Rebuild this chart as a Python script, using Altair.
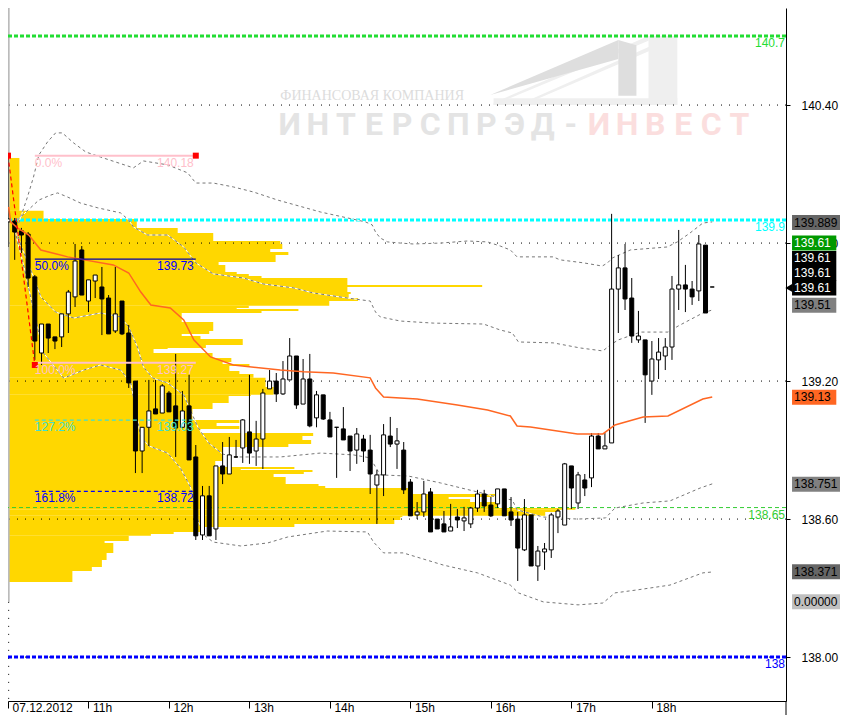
import altair as alt
import pandas as pd

# ---------- candles (5-minute bars, price) ----------
opens = [139.892,139.896,139.853,139.839,139.653,139.322,139.448,139.392,139.392,139.492,139.566,139.770,139.548,139.635,139.609,139.561,139.418,139.548,139.409,139.200,138.896,138.999,139.079,139.061,139.148,139.092,138.999,139.092,138.870,138.531,138.701,138.557,138.831,138.796,138.870,138.909,138.979,138.896,138.948,139.166,139.200,139.144,139.205,139.309,139.100,139.209,139.040,139.140,139.031,138.999,138.992,138.961,138.900,138.948,138.900,138.748,138.792,138.961,138.926,138.900,138.761,138.618,138.631,138.718,138.600,138.579,138.548,138.609,138.592,138.579,138.648,138.709,138.661,138.666,138.731,138.631,138.600,138.466,138.618,138.396,138.457,138.466,138.609,138.574,138.831,138.670,138.770,138.779,138.961,138.905,138.931,139.600,139.692,139.561,139.379,139.379,139.200,139.292,139.309,139.348,139.600,139.618,139.600,139.592,139.791,139.609]
highs = [140.178,139.909,139.866,139.848,139.661,139.448,139.448,139.392,139.492,139.596,139.796,139.787,139.640,139.661,139.696,139.574,139.696,139.548,139.444,139.200,138.999,139.205,139.205,139.187,139.157,139.318,139.157,139.227,138.922,138.744,138.744,138.831,138.935,138.957,138.944,139.035,139.227,139.027,139.166,139.248,139.235,139.287,139.387,139.309,139.296,139.318,139.157,139.140,139.066,138.999,139.087,138.961,138.996,138.966,138.966,138.813,139.013,139.044,138.996,138.935,138.774,138.674,138.766,138.735,138.600,138.635,138.666,138.644,138.653,138.653,138.727,138.727,138.696,138.731,138.731,138.696,138.631,138.687,138.618,138.483,138.496,138.627,138.644,138.844,138.831,138.805,138.796,138.974,138.974,138.974,139.927,139.748,139.796,139.648,139.505,139.379,139.374,139.387,139.387,139.657,139.857,139.705,139.635,139.835,139.791,139.609]
lows = [139.783,139.727,139.757,139.609,139.292,139.270,139.322,139.339,139.348,139.409,139.522,139.574,139.500,139.561,139.400,139.405,139.409,139.400,139.170,138.800,138.800,138.918,139.057,139.061,139.066,138.870,138.999,138.857,138.509,138.509,138.527,138.509,138.752,138.796,138.866,138.844,138.840,138.831,138.818,139.166,139.109,139.140,139.205,139.079,139.100,138.999,138.999,139.031,138.957,138.779,138.944,138.809,138.840,138.848,138.709,138.579,138.700,138.913,138.818,138.709,138.614,138.600,138.609,138.544,138.557,138.544,138.548,138.561,138.548,138.561,138.631,138.631,138.609,138.648,138.614,138.570,138.331,138.461,138.396,138.331,138.379,138.431,138.539,138.574,138.644,138.644,138.700,138.739,138.905,138.905,138.931,139.409,139.509,139.366,139.366,139.018,139.140,139.209,139.248,139.292,139.509,139.500,139.531,139.548,139.496,139.609]
closes = [139.905,139.848,139.835,139.648,139.374,139.448,139.387,139.374,139.492,139.587,139.722,139.574,139.640,139.661,139.557,139.405,139.492,139.405,139.192,138.896,138.999,139.070,139.057,139.179,139.066,138.996,139.070,138.857,138.527,138.701,138.527,138.831,138.796,138.879,138.870,139.031,138.887,138.948,139.148,139.200,139.144,139.209,139.309,139.096,139.209,139.005,139.140,139.035,138.957,138.999,138.944,138.896,138.970,138.896,138.796,138.792,138.966,138.926,138.940,138.727,138.614,138.631,138.709,138.544,138.557,138.544,138.566,138.596,138.605,138.648,138.709,138.657,138.614,138.731,138.614,138.596,138.474,138.618,138.396,138.461,138.470,138.618,138.635,138.840,138.735,138.792,138.735,138.961,138.905,138.918,139.600,139.692,139.557,139.396,139.396,139.227,139.296,139.326,139.348,139.600,139.618,139.600,139.566,139.796,139.496,139.609]

# ---------- volume profile: top price of each row, size in bars ----------
profile_top = [140.170,139.940,139.905,139.866,139.844,139.809,139.796,139.774,139.761,139.748,139.718,139.705,139.674,139.666,139.657,139.648,139.618,139.609,139.587,139.579,139.561,139.548,139.527,139.518,139.513,139.505,139.496,139.457,139.418,139.405,139.396,139.383,139.357,139.344,139.339,139.322,139.300,139.283,139.274,139.266,139.244,139.231,139.214,139.174,139.140,139.135,139.105,139.079,139.031,139.018,139.005,138.992,138.974,138.961,138.944,138.926,138.913,138.852,138.826,138.818,138.813,138.805,138.796,138.783,138.752,138.744,138.735,138.709,138.696,138.687,138.674,138.648,138.640,138.631,138.614,138.609,138.596,138.579,138.566,138.544,138.535,138.527,138.505,138.496,138.453,138.422,138.392,138.374]
profile_bottom_end = 138.326
profile_size = [1.7,5.3,19.2,25.3,30.6,40.6,40.9,39.1,41.8,39.9,31.4,32.4,34.1,35.9,37.8,50.6,70.7,50.6,51.1,50.8,52.2,47.9,35.9,34.1,43.3,37.8,25.9,30.6,30.0,25.9,28.7,35.0,29.5,23.8,21.7,30.5,33.3,32.0,36.0,33.0,34.5,36.6,38.4,39.6,36.2,32.9,30.5,27.5,34.5,31.1,34.5,28.7,45.5,43.9,45.2,41.8,32.0,30.9,42.7,34.7,45.4,44.1,39.6,41.4,46.3,47.3,60.0,72.7,65.7,68.9,73.0,84.6,82.3,80.1,58.8,58.5,57.6,42.7,28.7,24.7,21.3,18.0,14.4,15.7,14.7,14.0,12.5,9.6]

# ---------- bands and VWAP (bar, price) ----------
upper2_bar = [1.6,2.9,3.8,4.6,5.9,7.1,8.1,9.8,11.6,13.8,18.7,20.2,23.8,26.8,28.0,30.6,33.6,36.6,40.2,46.6,53.3,54.3,54.8,55.5,56.6,58.5,60.4,64.5,68.5,71.5,73.4,74.9,75.9,81.3,82.3,85.8,88.6,89.4,90.1,92.8,98.3,99.8,101.7,103.6,105]
upper2_val = [139.887,140.000,140.087,140.183,140.240,140.279,140.279,140.235,140.196,140.174,140.127,140.157,140.140,140.105,140.061,140.061,140.044,140.022,139.987,139.935,139.892,139.879,139.848,139.822,139.805,139.800,139.796,139.800,139.809,139.805,139.787,139.770,139.740,139.740,139.727,139.714,139.700,139.714,139.735,139.770,139.783,139.805,139.844,139.887,139.892]
upper1_bar = [1.4,4.6,6.4,7.4,8.9,10.8,13.4,16.8,18.0,18.7,20.8,23.8,26.2,28.0,30.6,35.1,38.1,42.6,45.5,50.6,54.0,54.8,55.5,58.5,63.4,70.9,73.4,75.2,76.1,81.3,85.3,88.7,89.8,91.0,94.3,98.4,99.9,103.6,105]
upper1_val = [139.900,139.987,140.009,140.018,140.000,139.974,139.953,139.931,139.900,139.870,139.835,139.835,139.783,139.714,139.666,139.648,139.622,139.605,139.583,139.561,139.548,139.500,139.479,139.461,139.452,139.448,139.422,139.409,139.370,139.366,139.344,139.331,139.357,139.379,139.413,139.413,139.439,139.496,139.509]
lower1_bar = [1.0,1.9,3.8,4.9,7.1,9.8,13.8,16.8,18.0,19.3,20.2,21.6,23.8,26.2,28.3,29.9,32.0,33.6,40.6,46.6,51.5,54.0,55.5,59.7,64.5,70.0,73.4,75.2,75.9,79.8,84.9,89.1,90.5,94.7,98.7,103.2,105]
lower1_val = [139.879,139.792,139.653,139.566,139.500,139.474,139.496,139.479,139.435,139.348,139.261,139.213,139.192,139.140,139.000,138.931,138.883,138.870,138.870,138.887,138.879,138.866,138.792,138.787,138.757,138.718,138.692,138.683,138.640,138.609,138.600,138.605,138.648,138.670,138.679,138.735,138.753]
lower2_bar = [1.0,2.5,3.8,5.3,8.3,11.3,13.8,16.8,18.3,19.8,21.0,23.8,25.7,27.2,28.3,29.2,30.6,34.7,38.7,41.7,47.6,53.6,54.5,56.0,58.9,64.9,70.0,74.9,76.1,79.8,85.0,88.7,90.5,93.8,98.7,103.6,105]
lower2_val = [139.857,139.683,139.509,139.322,139.213,139.248,139.270,139.248,139.192,138.957,138.918,138.887,138.822,138.740,138.596,138.531,138.500,138.483,138.496,138.522,138.548,138.544,138.500,138.453,138.453,138.400,138.366,138.313,138.279,138.240,138.227,138.235,138.279,138.292,138.313,138.366,138.370]
vwap_bar = [0.1,0.4,1.4,3.1,4.9,8.9,15.7,18.0,19.8,21.3,24.2,26.2,27.7,30.2,33.6,40.6,44.1,48.5,54.0,54.8,56.0,61.0,67.0,71.5,74.9,75.9,77.9,84.9,88.7,90.5,94.7,98.4,103.6,105]
vwap_val = [139.957,139.892,139.866,139.835,139.770,139.740,139.705,139.670,139.587,139.531,139.518,139.466,139.379,139.305,139.270,139.248,139.240,139.235,139.214,139.170,139.131,139.122,139.096,139.074,139.048,139.005,139.000,138.970,138.970,139.009,139.044,139.048,139.122,139.131]

# ---------- axes ----------
price_ticks = [138.00,138.60,139.20,139.80,140.40]
hour_bars = [0,12,24,36,48,60,72,84,96]
hour_labels = ["07.12.2012","11h","12h","13h","14h","15h","16h","17h","18h"]

# ---------- horizontal levels ----------
level_vals = [140.7,139.9,138.0]
level_names = ["140.7","139.9","138"]
thin_level = 138.65

# ---------- fibonacci ----------
fib_pct = ["0.0%","50.0%","100.0%","127.2%","161.8%"]
fib_val = [140.18,139.73,139.28,139.03,138.72]
fib_txt = ["140.18","139.73","139.27","139.03","138.72"]
fib_from, fib_to = 4, 28
anchor_bar = [0,28,4]
anchor_val = [140.18,140.18,139.27]

# ---------- price badges ----------
badge_text = ["139.889","139.61","139.61 ","139.61  ","139.61   ","139.51","139.13","138.751","138.371","0.00000"]
badge_pos = [139.889,139.80,139.733,139.668,139.605,139.53,139.13,138.751,138.371,138.24]

# ---------- watermark ----------
wm_top = "ФИНАНСОВАЯ КОМПАНИЯ"
wm_grey = ["И","Н","Т","Е","Р","С","П","Р","Э","Д","-"]
wm_red = ["И","Н","В","Е","С","Т"]
logo_name = ["a","a","b","b","c","c","d","d","e","e","f","f"]
logo_bar = [72.4,95.5,76.8,99.2,95.5,99.8,72.4,99.8,71.9,91.0,91.0,93.7]
logo_hi = [140.41,140.70,140.41,140.70,140.70,140.70,140.43,140.43,140.444,140.683,140.683,140.66]
logo_lo = [140.40,140.68,140.40,140.68,140.40,140.40,140.40,140.40,140.444,140.60,140.44,140.44]

# ---------- shared scales and axes ----------
FONT = "Liberation Sans"
xs = alt.Scale(domain=[0, 116.0], nice=False, zero=False, padding=0)
ys = alt.Scale(domain=[137.809, 140.822], nice=False, zero=False, padding=0)
x_axis = alt.Axis(
    values=hour_bars, grid=False, tickSize=7, tickColor="black", domainColor="black",
    labelFont=FONT, labelFontSize=12, labelColor="black", labelAlign="left", labelBaseline="top",
    labelPadding=-6, labelOffset=4, labelFlush=False, labelOverlap=False,
    labelExpr="[" + ",".join(f"'{s}'" for s in hour_labels) + "][round(datum.value/12)]")
y_axis = alt.Axis(
    orient="right", values=price_ticks, format=".2f", grid=False, tickSize=4, tickColor="black",
    domainColor="black", labelFont=FONT, labelFontSize=12, labelColor="black", labelPadding=11,
    labelFlush=False, labelOverlap=False)
X = lambda f: alt.X(f, type="quantitative", scale=xs, axis=x_axis, title=None)
Y = lambda f: alt.Y(f, type="quantitative", scale=ys, axis=y_axis, title=None)

RIGHT = 115.85
BOX_L, BOX_S, BOX_W = 116.9, 123.5, 124.05
BOX_H = 0.0326

bars = pd.DataFrame({"i": range(len(opens)), "o": opens, "h": highs, "l": lows, "c": closes})
bars["dir"] = ["up" if c >= o else "down" for o, c in zip(opens, closes)]
prof_bottom = profile_top[1:] + [profile_bottom_end]
prof = pd.DataFrame({"a": 0.0, "s": profile_size, "t": profile_top, "b": prof_bottom})
lines = lambda b, v: pd.DataFrame({"i": b, "p": v})

# watermark
logo = alt.Chart(pd.DataFrame({"n": logo_name, "i": logo_bar, "h": logo_hi, "l": logo_lo})).mark_area(interpolate="linear").encode(
    x=X("i"), y=Y("h"), y2=alt.Y2("l"),
    color=alt.Color("n:N", legend=None, scale=alt.Scale(
        domain=["a", "b", "c", "d", "e", "f"],
        range=["#efefef", "#efefef", "#efefef", "#efefef", "#dedede", "#dedede"])),
)
wm1 = alt.Chart(pd.DataFrame({"i": [54.3], "p": [140.44], "t": [wm_top]})).mark_text(
    font="Liberation Serif", fontSize=14, color="#dcdcdc", align="center", baseline="middle"
).encode(x=X("i"), y=Y("p"), text="t:N")
wm2 = alt.Chart(pd.DataFrame({"i": [42.0 + 4.19 * k for k in range(len(wm_grey))], "p": 140.313, "t": wm_grey})).mark_text(
    font="Roboto", fontWeight="bold", fontSize=32, color="#e4e4e4", align="center", baseline="middle"
).encode(x=X("i"), y=Y("p"), text="t:N")
wm3 = alt.Chart(pd.DataFrame({"i": [88.1 + 4.19 * k for k in range(len(wm_red))], "p": 140.313, "t": wm_red})).mark_text(
    font="Roboto", fontWeight="bold", fontSize=32, color="#fbdede", align="center", baseline="middle"
).encode(x=X("i"), y=Y("p"), text="t:N")

# volume profile, grid
profile = alt.Chart(prof).mark_rect(color="#ffd700", strokeWidth=0).encode(x=X("a"), x2=alt.X2("s"), y=Y("t"), y2=alt.Y2("b"))
grid = alt.Chart(pd.DataFrame({"p": price_ticks})).mark_rule(color="black", strokeDash=[1, 7], strokeWidth=1).encode(y=Y("p"))

# bands
def band(b, v):
    base = alt.Chart(lines(b, v))
    return base.mark_line(color="white", strokeWidth=1, interpolate="linear").encode(x=X("i"), y=Y("p")) + \
        base.mark_line(color="#777777", strokeWidth=1, strokeDash=[3, 3], interpolate="linear").encode(x=X("i"), y=Y("p"))

# levels
levels = alt.Chart(pd.DataFrame({"p": level_vals, "n": level_names})).mark_rule(strokeWidth=3, strokeDash=[4, 2]).encode(
    y=Y("p"),
    color=alt.Color("n:N", legend=None, scale=alt.Scale(domain=level_names, range=["#22dd33", "#00ffff", "#0000ff"])),
)
thin = alt.Chart(pd.DataFrame({"p": [thin_level]})).mark_rule(color="#33cc33", strokeWidth=1, strokeDash=[4, 3]).encode(y=Y("p"))
level_text = alt.Chart(pd.DataFrame({
    "i": RIGHT, "p": level_vals + [thin_level], "t": level_names + ["138.65"], "k": level_names + ["138.65"]
})).mark_text(font=FONT, fontSize=12, align="right", baseline="top", dy=2).encode(
    x=X("i"), y=Y("p"), text="t:N",
    color=alt.Color("k:N", legend=None, scale=alt.Scale(
        domain=level_names + ["138.65"], range=["#22dd33", "#00ffff", "#0000ff", "#33cc33"])),
)

# frame pieces
left_grey = alt.Chart(pd.DataFrame({"i": [0.1], "a": [140.822], "b": [138.24]})).mark_rule(color="#bbbbbb", strokeWidth=2).encode(x=X("i"), y=Y("a"), y2=alt.Y2("b"))
left_dots = alt.Chart(pd.DataFrame({"i": [0.1], "a": [138.24], "b": [137.809]})).mark_rule(color="black", strokeDash=[1, 7], strokeWidth=1).encode(x=X("i"), y=Y("a"), y2=alt.Y2("b"))
axis_tail = alt.Chart(pd.DataFrame({"i": [116.0], "a": [137.809], "b": [137.745]})).mark_rule(color="black", strokeWidth=1).encode(x=X("i"), y=Y("a"), y2=alt.Y2("b"))

# candles
wicks = alt.Chart(bars).mark_rule(color="black", strokeWidth=1).encode(x=X("i"), y=Y("h"), y2=alt.Y2("l"))
bodies = alt.Chart(bars).mark_bar(size=4, stroke="black", strokeWidth=1, orient="vertical").encode(
    x=X("i"), y=Y("o"), y2=alt.Y2("c"),
    color=alt.Color("dir:N", legend=None, scale=alt.Scale(domain=["up", "down"], range=["white", "black"])),
)

vwap = alt.Chart(lines(vwap_bar, vwap_val)).mark_line(color="#ff6622", strokeWidth=1.5, interpolate="linear").encode(x=X("i"), y=Y("p"))

# fibonacci
fib = pd.DataFrame({"a": fib_from, "b": fib_to, "p": fib_val, "pct": fib_pct, "t": fib_txt})
fib_cols = ["#ffc0cb", "#0000ff", "#ffc0cb", "#40e0d0", "#0000ff"]
fib_color = alt.Color("pct:N", legend=None, scale=alt.Scale(domain=fib_pct, range=fib_cols))
fib_solid = alt.Chart(fib[fib.pct.isin(["0.0%", "100.0%"])]).mark_rule(strokeWidth=2).encode(x=X("a"), x2=alt.X2("b"), y=Y("p"), color=fib_color)
fib_mid = alt.Chart(fib[fib.pct == "50.0%"]).mark_rule(strokeWidth=1.3, color="#0000aa").encode(x=X("a"), x2=alt.X2("b"), y=Y("p"))
fib_dash = alt.Chart(fib[fib.pct.isin(["127.2%", "161.8%"])]).mark_rule(strokeWidth=1.3, strokeDash=[4, 3]).encode(x=X("a"), x2=alt.X2("b"), y=Y("p"), color=fib_color)
fib_l = alt.Chart(fib).mark_text(font=FONT, fontSize=12, align="left", baseline="top", dy=2).encode(x=X("a"), y=Y("p"), text="pct:N", color=fib_color)
fib_r = alt.Chart(fib).mark_text(font=FONT, fontSize=12, align="right", baseline="top", dy=2, dx=-2).encode(x=X("b"), y=Y("p"), text="t:N", color=fib_color)
zigzag = alt.Chart(lines(anchor_bar[0::2], anchor_val[0::2])).mark_line(color="#ff0000", strokeWidth=1.2, strokeDash=[4, 3]).encode(x=X("i"), y=Y("p"))
anchors = alt.Chart(lines(anchor_bar, anchor_val)).mark_square(color="#ff0000", size=36, opacity=1).encode(x=X("i"), y=Y("p"))

# badges
bd = pd.DataFrame({"t": badge_text, "p": badge_pos})
bd["hi"] = bd.p + BOX_H
bd["lo"] = bd.p - BOX_H
bd["l"] = BOX_L
bd["r"] = [BOX_W, BOX_S, BOX_S, BOX_S, BOX_S, BOX_S, BOX_S, BOX_W, BOX_W, BOX_W]
bd["tx"] = 117.2
fills = ["#666666", "#009900", "black", "black", "black", "#808080", "#ff6622", "#808080", "#666666", "#c0c0c0"]
inks = ["black", "white", "white", "white", "white", "black", "black", "black", "black", "black"]
badge_rect = alt.Chart(bd).mark_rect(strokeWidth=0).encode(
    x=X("l"), x2=alt.X2("r"), y=Y("hi"), y2=alt.Y2("lo"),
    color=alt.Color("t:N", legend=None, sort=None, scale=alt.Scale(domain=badge_text, range=fills)))
badge_txt = alt.Chart(bd).mark_text(font=FONT, fontSize=12, align="left", baseline="middle").encode(
    x=X("tx"), y=Y("p"), text="t:N",
    color=alt.Color("t:N", legend=None, sort=None, scale=alt.Scale(domain=badge_text, range=inks)))
arrow = alt.Chart(pd.DataFrame({"i": [116.4], "p": [139.605]})).mark_point(
    shape="triangle-left", filled=True, color="black", size=60, opacity=1).encode(x=X("i"), y=Y("p"))

chart = alt.layer(
    logo, wm1, wm2, wm3, profile, grid, left_grey, left_dots, axis_tail,
    thin, levels,
    band(upper2_bar, upper2_val), band(upper1_bar, upper1_val), band(lower1_bar, lower1_val), band(lower2_bar, lower2_val),
    wicks, bodies, vwap,
    fib_solid, fib_mid, fib_dash, zigzag, anchors, fib_l, fib_r, level_text,
    badge_rect, badge_txt, arrow,
).resolve_scale(color="independent").properties(
    width=778, height=693,
    autosize=alt.AutoSizeParams(type="none"),
    padding={"left": 0, "top": 0, "right": 54, "bottom": 14},
    background="white",
).configure_view(stroke=None)

chart.save("out.html", embed_options={"renderer": "svg", "actions": False})
